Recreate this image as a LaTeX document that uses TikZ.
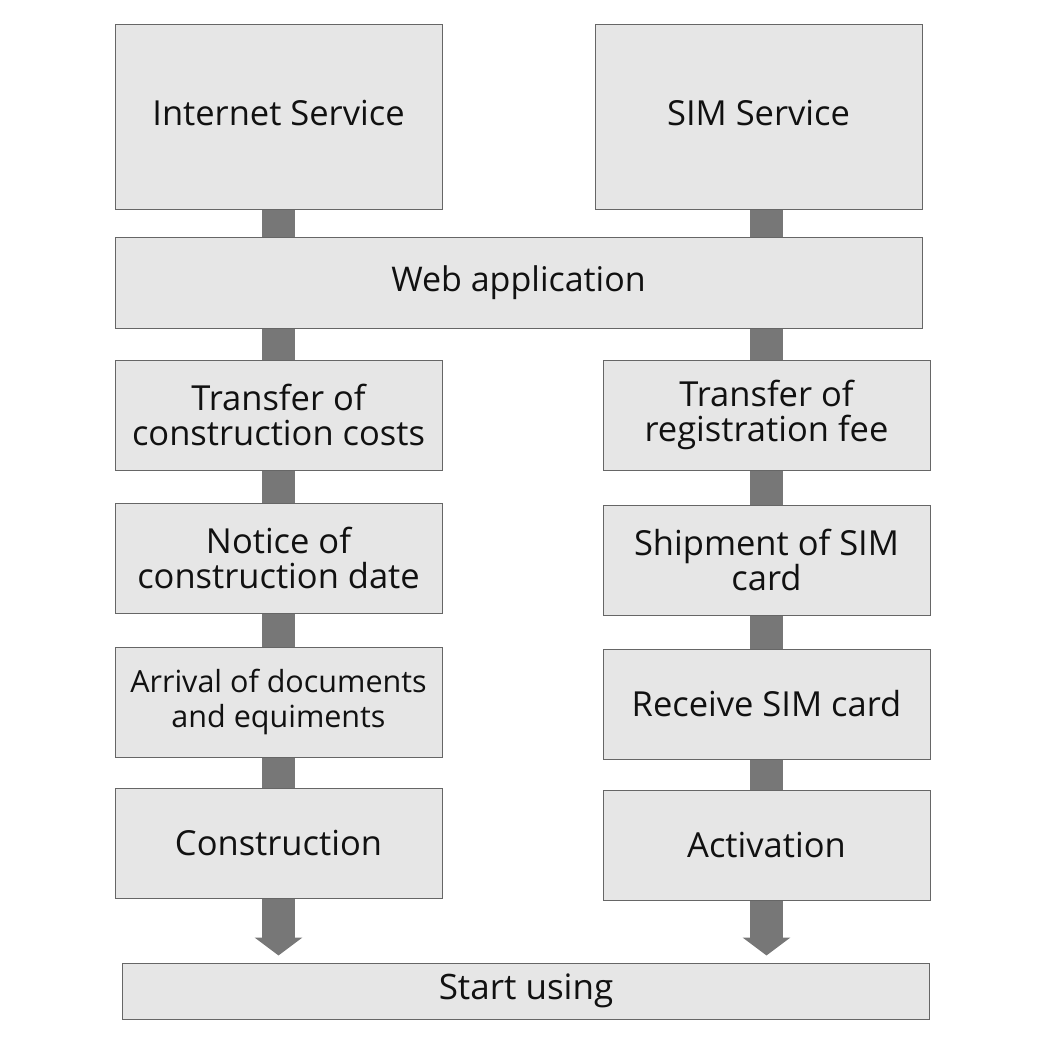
\documentclass[tikz,border=0pt]{standalone}
\usepackage{fontspec}
\setmainfont{Open Sans}
\usetikzlibrary{arrows.meta,calc}
\definecolor{boxfill}{HTML}{E6E6E6}
\definecolor{boxline}{HTML}{666666}
\definecolor{connc}{HTML}{777777}
\definecolor{txt}{HTML}{111111}
\tikzset{
  box/.style={draw=boxline, line width=1pt, fill=boxfill, rectangle, inner sep=0pt,
    minimum width=327pt, text=txt, align=center, font=\fontsize{34.5}{35}\selectfont},
  bigtxt/.style={font=\fontsize{34.5}{38}\selectfont},
  smalltxt/.style={font=\fontsize{30.5}{35}\selectfont},
  conn/.style={draw=connc, line width=33pt, line cap=butt},
  endarrow/.style={conn, -{Triangle[width=47pt,length=18pt]}, shorten >=7pt}
}
\begin{document}
\begin{tikzpicture}[x=1pt,y=-1pt]
\useasboundingbox (0,0) rectangle (1038,1038);
% nodes
\node[box, bigtxt, minimum height=184pt] (inet) at (278.5,117) {\raisebox{9pt}{Internet Service}};
\node[box, bigtxt, minimum height=184pt] (sim)  at (758.5,117) {\raisebox{9pt}{SIM Service}};
\node[box, font=\fontsize{34}{38}\selectfont, minimum width=807pt, minimum height=91pt] (web) at (518.5,282.5) {Web application};
\node[box, minimum height=110pt] (tcc) at (278.5,415) {Transfer of\\construction costs};
\node[box, minimum height=110pt] (trf) at (766.5,415) {Transfer of\\registration fee};
\node[box, minimum height=110pt] (ncd) at (278.5,558) {Notice of\\construction date};
\node[box, minimum height=110pt] (ssc) at (766.5,560) {Shipment of SIM\\card};
\node[box, smalltxt, minimum height=110pt] (arr) at (278.5,702) {Arrival of documents\\and equiments};
\node[box, minimum height=110pt] (rsc) at (766.5,704) {Receive SIM card};
\node[box, minimum height=110pt] (con) at (278.5,843) {Construction};
\node[box, minimum height=110pt] (act) at (766.5,845) {Activation};
\node[box, font=\fontsize{35}{38}\selectfont, minimum width=807pt, minimum height=56pt] (start) at (526,991) {Start using};
% connectors
\coordinate (simout) at ($(sim.south)+(8,0)$);
\draw[conn] (inet.south) -- (web.north -| inet.south);
\draw[conn] (simout) -- (web.north -| simout);
\draw[conn] (web.south -| tcc.north) -- (tcc.north);
\draw[conn] (web.south -| trf.north) -- (trf.north);
\draw[conn] (tcc.south) -- (ncd.north);
\draw[conn] (ncd.south) -- (arr.north);
\draw[conn] (arr.south) -- (con.north);
\draw[conn] (trf.south) -- (ssc.north);
\draw[conn] (ssc.south) -- (rsc.north);
\draw[conn] (rsc.south) -- (act.north);
\draw[endarrow] (con.south) -- (con.south |- start.north);
\draw[endarrow] (act.south) -- (act.south |- start.north);
\end{tikzpicture}
\end{document}
